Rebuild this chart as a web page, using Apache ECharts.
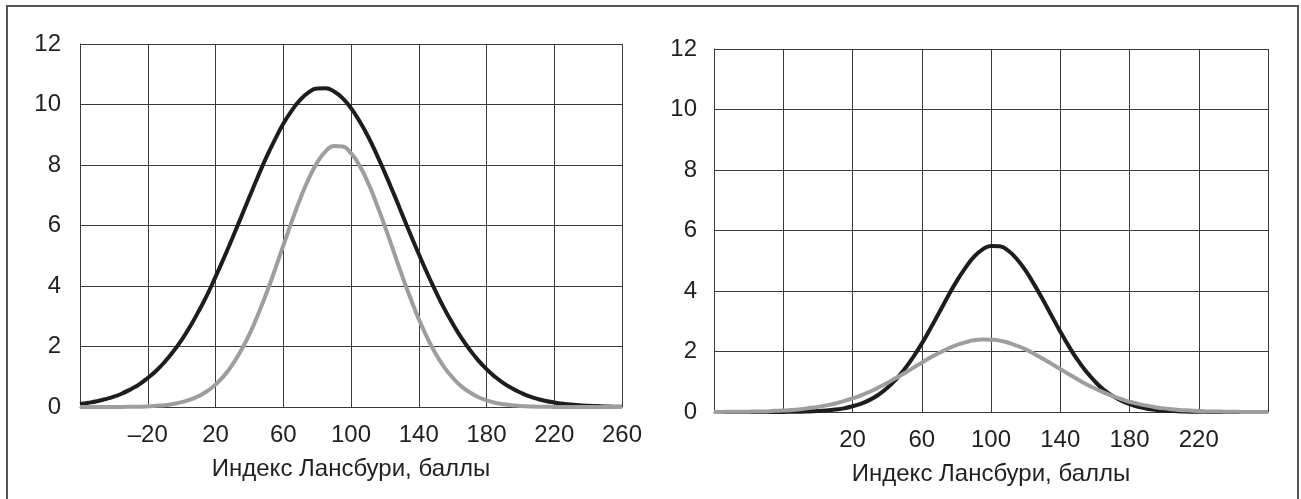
<!DOCTYPE html>
<html>
<head>
<meta charset="utf-8">
<script src="https://cdn.jsdelivr.net/npm/echarts@6/dist/echarts.min.js"></script>
<style>
  html, body { margin: 0; padding: 0; background: #fff; overflow: hidden; }
  #chart { width: 1301px; height: 499px; }
  #frame {
    position: absolute; left: 6px; top: 5px; width: 1289px; height: 520px;
    border: 2px solid #555; pointer-events: none;
  }
</style>
</head>
<body>
<div id="chart"></div>
<div id="frame"></div>
<script>
// x positions (Индекс Лансбури, баллы), step 5
const xValues = [-60, -55, -50, -45, -40, -35, -30, -25, -20, -15, -10, -5, 0, 5, 10, 15, 20,
  25, 30, 35, 40, 45, 50, 55, 60, 65, 70, 75, 80, 85, 90, 95, 100,
  105, 110, 115, 120, 125, 130, 135, 140, 145, 150, 155, 160, 165, 170, 175, 180,
  185, 190, 195, 200, 205, 210, 215, 220, 225, 230, 235, 240, 245, 250, 255, 260];

// left panel
const leftBlack = [0.10, 0.14, 0.19, 0.26, 0.34, 0.45, 0.59, 0.75, 0.96, 1.20, 1.49, 1.83, 2.22, 2.66, 3.16, 3.70, 4.30,
  4.93, 5.59, 6.26, 6.94, 7.61, 8.25, 8.83, 9.36, 9.80, 10.15, 10.40, 10.53, 10.54, 10.43, 10.21, 9.88,
  9.45, 8.95, 8.37, 7.74, 7.08, 6.40, 5.72, 5.06, 4.42, 3.82, 3.26, 2.76, 2.30, 1.90, 1.55, 1.25,
  1.00, 0.79, 0.62, 0.48, 0.36, 0.27, 0.20, 0.15, 0.11, 0.08, 0.06, 0.04, 0.03, 0.02, 0.01, 0.01];
const leftGray = [0, 0, 0, 0, 0, 0, 0.01, 0.01, 0.02, 0.04, 0.06, 0.10, 0.16, 0.24, 0.36, 0.52, 0.74,
  1.03, 1.40, 1.86, 2.40, 3.04, 3.75, 4.52, 5.33, 6.13, 6.88, 7.54, 8.08, 8.45, 8.63, 8.61, 8.39,
  7.98, 7.42, 6.73, 5.97, 5.17, 4.37, 3.61, 2.91, 2.29, 1.76, 1.32, 0.97, 0.69, 0.49, 0.33, 0.22,
  0.14, 0.09, 0.06, 0.03, 0.02, 0.01, 0.01, 0, 0, 0, 0, 0, 0, 0, 0, 0];

// right panel
const rightBlack = [0, 0, 0, 0, 0, 0, 0, 0, 0, 0.01, 0.01, 0.02, 0.03, 0.05, 0.08, 0.12, 0.19,
  0.28, 0.40, 0.57, 0.79, 1.07, 1.41, 1.81, 2.26, 2.76, 3.28, 3.81, 4.31, 4.75, 5.12, 5.37, 5.49,
  5.48, 5.33, 5.05, 4.67, 4.21, 3.71, 3.18, 2.66, 2.17, 1.72, 1.34, 1.01, 0.74, 0.54, 0.38, 0.26,
  0.17, 0.11, 0.07, 0.04, 0.03, 0.02, 0.01, 0.01, 0, 0, 0, 0, 0, 0, 0, 0];
const rightGray = [0, 0, 0.01, 0.01, 0.01, 0.02, 0.02, 0.04, 0.05, 0.07, 0.09, 0.13, 0.17, 0.22, 0.28, 0.36, 0.45,
  0.55, 0.67, 0.81, 0.96, 1.12, 1.28, 1.46, 1.63, 1.80, 1.95, 2.09, 2.21, 2.30, 2.37, 2.40, 2.39,
  2.36, 2.29, 2.19, 2.07, 1.92, 1.76, 1.59, 1.42, 1.25, 1.08, 0.92, 0.78, 0.65, 0.53, 0.43, 0.34,
  0.27, 0.21, 0.16, 0.12, 0.09, 0.06, 0.05, 0.03, 0.02, 0.02, 0.01, 0.01, 0, 0, 0, 0];

// ticks
const gridTicks = [-20, 20, 60, 100, 140, 180, 220, 260];
const leftLabels = [-20, 20, 60, 100, 140, 180, 220, 260];
const rightLabels = [20, 60, 100, 140, 180, 220];
const axisTitle = 'Индекс Лансбури, баллы';

const textColor = '#231f20';
const gridColor = '#3a3a3a';
const font = 'Liberation Sans, Arial, sans-serif';

function pairs(ys) {
  return xValues.map((x, i) => [x, ys[i]]);
}

function makeX(gridIndex, labels, gap) {
  return {
    type: 'value', gridIndex: gridIndex, min: -60, max: 260,
    name: axisTitle, nameLocation: 'middle', nameGap: gap,
    nameTextStyle: { color: textColor, fontSize: 24, fontFamily: font },
    axisLine: { show: true, onZero: false, lineStyle: { color: gridColor, width: 1 } },
    axisTick: { show: false, customValues: gridTicks },
    axisLabel: {
      customValues: labels, margin: 16, color: textColor, fontSize: 24, fontFamily: font,
      formatter: v => (v < 0 ? '–' + Math.abs(v) : String(v))
    },
    splitLine: { show: true, lineStyle: { color: gridColor, width: 1 } }
  };
}

function makeY(gridIndex, margin) {
  return {
    type: 'value', gridIndex: gridIndex, min: 0, max: 12, interval: 2,
    axisLine: { show: true, onZero: false, lineStyle: { color: gridColor, width: 1 } },
    axisTick: { show: false },
    axisLabel: { margin: margin, color: textColor, fontSize: 24, fontFamily: font },
    splitLine: { show: true, lineStyle: { color: gridColor, width: 1 } }
  };
}

function curve(idx, ys, color) {
  return {
    type: 'line', xAxisIndex: idx, yAxisIndex: idx, data: pairs(ys),
    smooth: true, showSymbol: false, symbol: 'none', clip: false,
    lineStyle: { color: color, width: 4 }
  };
}

const chart = echarts.init(document.getElementById('chart'));
chart.setOption({
  animation: false,
  backgroundColor: 'transparent',
  grid: [
    { left: 80, right: 679, top: 44, bottom: 92 },
    { left: 714, right: 33, top: 49, bottom: 87 }
  ],
  xAxis: [makeX(0, leftLabels, 50), makeX(1, rightLabels, 50)],
  yAxis: [makeY(0, 19), makeY(1, 17)],
  series: [
    curve(0, leftBlack, '#1f1c1d'),
    curve(0, leftGray, '#9c9ea1'),
    curve(1, rightBlack, '#1f1c1d'),
    curve(1, rightGray, '#9c9ea1')
  ]
});
</script>
</body>
</html>
